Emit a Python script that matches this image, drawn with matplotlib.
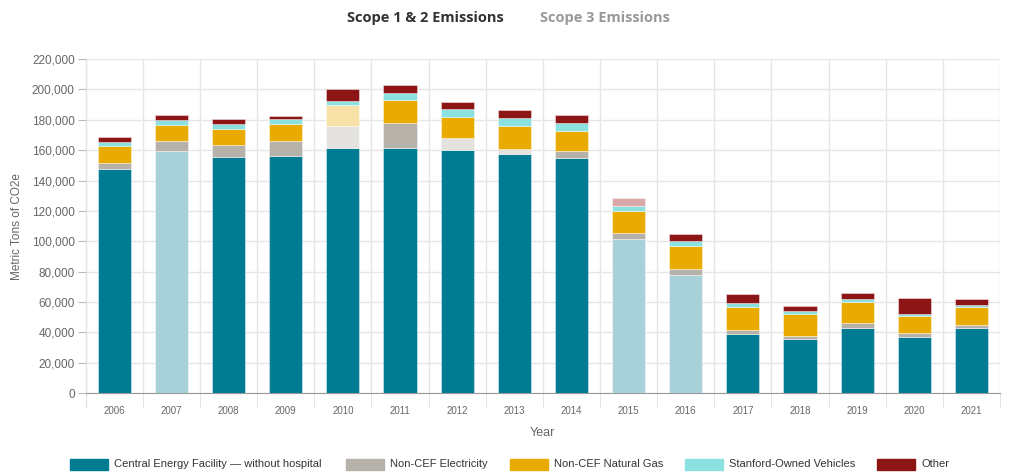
import numpy as np
import matplotlib.pyplot as plt
from matplotlib.patches import Rectangle
from matplotlib.ticker import FuncFormatter, MultipleLocator

plt.rcParams['font.family'] = ['Liberation Sans', 'DejaVu Sans']

years = [str(y) for y in range(2006, 2022)]
series = ["Central Energy Facility \u2014 without hospital", "Non-CEF Electricity",
          "Non-CEF Natural Gas", "Stanford-Owned Vehicles", "Other"]

# metric tons CO2e
cef = [147600, 159400, 155700, 155900, 161400, 161400, 159900, 157200,
       154600, 101400, 77900, 39100, 35800, 42600, 37100, 43000]
elec = [3700, 6400, 7700, 10100, 14500, 16500, 7900, 3700,
        4800, 3800, 3600, 2400, 1700, 3300, 2200, 1600]
gas = [11200, 10700, 10500, 11200, 13600, 15100, 14200, 15200,
       13400, 14500, 15100, 15000, 14700, 14200, 11400, 12100]
vehicles = [2800, 3300, 3500, 3100, 3100, 4400, 4900, 5100,
            5100, 3700, 3500, 3000, 1600, 2000, 1300, 1500]
other = [3100, 3300, 3300, 2200, 7700, 5300, 5000, 5200,
         5400, 5100, 4800, 5700, 3500, 4000, 10600, 3900]

colors = ["#007c92", "#b6b1a9", "#e9ab00", "#8be0e0", "#8c1515"]
faded_colors = ["#a8d1d9", "#e4e2df", "#f7e1a6", "#c5efef", "#d9a9aa"]
# segments drawn in the paler shade (year index, series index)
faded = {(1, 0), (9, 0), (10, 0), (4, 1), (4, 2), (6, 1), (7, 1), (9, 4)}

fig = plt.figure(figsize=(10.1, 4.73), dpi=100)
ax = fig.add_axes([0.085, 0.169, 0.905, 0.706])

x = np.arange(len(years))
bottom = np.zeros(len(years))
for si, vals in enumerate([cef, elec, gas, vehicles, other]):
    cols = [faded_colors[si] if (i, si) in faded else colors[si] for i in range(len(years))]
    ax.bar(x, vals, width=0.58, bottom=bottom, color=cols,
           edgecolor=(1, 1, 1, 0.5), linewidth=0.6, zorder=3)
    bottom += np.array(vals)

ax.set_xlim(-0.5, len(years) - 0.5)
ax.set_ylim(0, 220000)
ax.yaxis.set_major_locator(MultipleLocator(20000))
ax.yaxis.set_major_formatter(FuncFormatter(lambda v, p: f"{int(v):,}"))
ax.set_xticks(x)
ax.set_xticklabels(years)
ax.set_xticks(np.arange(-0.5, len(years)), minor=True)

ax.grid(axis="y", color="#e6e6e6", linewidth=1, zorder=0)
ax.grid(axis="x", which="minor", color="#e6e6e6", linewidth=1, zorder=0)
for s in ["top", "right", "left"]:
    ax.spines[s].set_visible(False)
ax.spines["bottom"].set_color("#999999")
ax.tick_params(axis="x", which="major", length=0, pad=9, labelsize=7, labelcolor="#666666")
ax.tick_params(axis="x", which="minor", length=11, color="#e0e0e0")
ax.tick_params(axis="y", length=6, color="#bbbbbb", labelsize=8.5, labelcolor="#666666", pad=2)
ax.set_ylabel("Metric Tons of CO2e", fontsize=8.5, color="#666666", labelpad=6)
ax.set_xlabel("Year", fontsize=9, color="#666666", labelpad=8)
ax.axvline(-0.5, color="#e6e6e6", linewidth=1, zorder=1, ymin=-0.04, clip_on=False)

# tabs above the chart
fig.text(0.421, 0.963, "Scope 1 & 2 Emissions", ha="center", va="center",
         fontsize=10.5, fontweight="bold", color="#333333", family="Open Sans")
fig.text(0.599, 0.963, "Scope 3 Emissions", ha="center", va="center",
         fontsize=10.5, fontweight="bold", color="#999999", family="Open Sans")

# legend along the bottom
leg_x = [70, 346, 510, 685, 877]
for xi, name, c in zip(leg_x, series, colors):
    fig.patches.append(Rectangle((xi / 1010, 1 - 470 / 473), 38 / 1010, 11 / 473,
                                 transform=fig.transFigure, color=c))
    fig.text((xi + 44) / 1010, 1 - 464 / 473, name, ha="left", va="center",
             fontsize=8, color="#333333")

fig.savefig("out.png", dpi=100)
